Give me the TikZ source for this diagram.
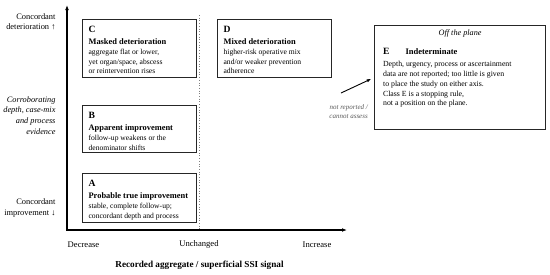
\documentclass[tikz,border=0pt]{standalone}
\usepackage{fontspec}
\setmainfont{Liberation Serif}
\usetikzlibrary{arrows.meta}
\tikzset{quad/.style={draw=black!85,line width=1.2pt,anchor=north west,inner xsep=6pt,inner ysep=7pt},
  axislabel/.style={align=right,anchor=east,font=\fontsize{8.4}{10.4}\selectfont},
  tick/.style={font=\fontsize{8.6}{10}\selectfont}}
\newcommand{\quadtext}[5]{\parbox[t][#2pt][t]{#1pt}{\raggedright
{\fontsize{9.6}{11}\bfseries #3\par}
{\fontsize{8.4}{11.6}\bfseries #4\par}\vspace{0.6pt}
{\fontsize{7.6}{9.6}\selectfont #5\par}}}
\begin{document}
\begin{tikzpicture}[x=1pt,y=-1pt]
\useasboundingbox (0,0) rectangle (550,274);
% axes
\coordinate (origin) at (67,230);
\coordinate (ytop) at (67,5);
\coordinate (xend) at (347,230);
\coordinate (midtop) at (199,15);
\draw[dotted,gray,line width=.7pt] (midtop) -- (midtop |- origin);
\draw[{Latex[length=5pt]}-{Latex[length=5pt]},line width=1.1pt] (ytop) |- (xend);
% quadrants
\node[quad] (C) at (82,19) {\quadtext{102}{44}{C}{Masked deterioration}{aggregate flat or lower,\\yet organ/space, abscess\\or reintervention rises}};
\node[quad] (D) at (217,19) {\quadtext{102}{44}{D}{Mixed deterioration}{higher-risk operative mix\\and/or weaker prevention\\adherence}};
\node[quad] (B) at (82,105) {\quadtext{102}{33}{B}{Apparent improvement}{follow-up weakens or the\\denominator shifts}};
\node[quad] (A) at (82,173) {\quadtext{102}{35}{A}{Probable true improvement}{stable, complete follow-up;\\concordant depth and process}};
% off the plane
\node[quad,inner xsep=8.5pt,inner ysep=4.5pt] (E) at (374,25) {\parbox[t][95pt][t]{154pt}{%
\centering{\fontsize{8.2}{10}\itshape Off the plane\par}\vspace{8pt}
\raggedright{\fontsize{9.6}{11}\bfseries E\hspace{16pt}\fontsize{8.5}{11}\selectfont Indeterminate\par}\vspace{2pt}
{\fontsize{7.8}{9.8}\selectfont Depth, urgency, process or ascertainment\\data are not reported; too little is given\\to place the study on either axis.\\Class E is a stopping rule,\\not a position on the plane.\par}}};
\node[align=right,text=black!65,font=\fontsize{7}{9.4}\itshape,anchor=north east,inner sep=0] (nr) at (368,104) {not reported /\\cannot assess};
\coordinate (src) at (341,93);
\draw[-{Latex[length=4.5pt]},line width=.9pt,shorten >=3pt] (src) -- (E.west);
% axis labels
\node[axislabel] (up) at (59,22) {Concordant\\deterioration ↑};
\node[axislabel,font=\fontsize{8.3}{10.7}\itshape] (mid) at (59,115.5) {Corroborating\\depth, case-mix\\and process\\evidence};
\node[axislabel] (down) at (59,208) {Concordant\\improvement ↓};
\node[tick] (dec) at (83.5,244.5) {Decrease};
\node[tick] (unch) at (199,244.5) {Unchanged};
\node[tick] (inc) at (317,244.5) {Increase};
\node[font=\fontsize{9.2}{11}\bfseries] (xtitle) at (199.5,265) {Recorded aggregate / superficial SSI signal};
\end{tikzpicture}
\end{document}
